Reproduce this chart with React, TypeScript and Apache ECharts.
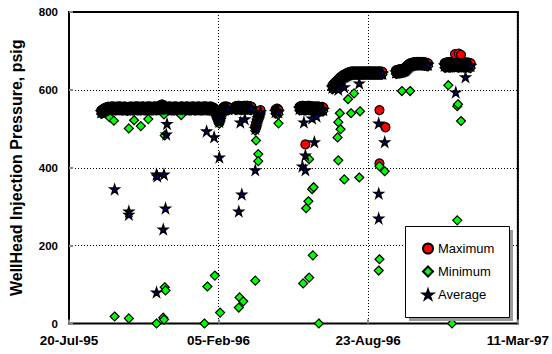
import React, { useEffect, useRef } from 'react';
import * as echarts from 'echarts';

// Tick labels
const xTickDays = [0, 200, 400, 600];
const xTickLabels = ['20-Jul-95', '05-Feb-96', '23-Aug-96', '11-Mar-97'];
const yTickValues = [0, 200, 400, 600, 800];
const seriesNames = ['Maximum', 'Minimum', 'Average'];

// Daily readings: [day since 20-Jul-95, maximum, minimum, average]
const periodA = [
  [43,547,538,543],[44,548,539,544],[45,549,540,545],[46,551,542,547],[47,552,543,548],[48,553,544,549],[49,554,545,550],[50,555,546,551],
  [51,555,547,551],[52,556,547,552],[53,556,548,552],[54,555,546,551],[55,556,548,552],[56,556,547,552],[57,557,548,553],[58,556,548,552],
  [59,557,549,553],[60,556,547,552],[61,556,548,552],[62,555,547,551],[63,556,547,552],[64,556,548,552],[65,557,548,553],[66,556,548,552],
  [67,557,549,553],[68,557,548,553],[69,556,548,552],[70,556,547,552],[71,555,547,551],[72,556,548,552],[73,556,547,552],[74,557,549,553],
  [75,556,548,552],[76,556,547,552],[77,555,547,551],[78,555,546,551],[79,556,548,552],[80,555,547,551],[81,556,548,552],[82,556,547,552],
  [83,557,548,553],[84,556,548,552],[85,556,547,552],[86,555,547,551],[87,556,548,552],[88,556,547,552],[89,557,549,553],[90,557,548,553],
  [91,556,548,552],[92,556,547,552],[93,557,548,553],[94,556,548,552],[95,555,547,551],[96,556,547,552],[97,556,548,552],[98,557,549,553],
  [99,557,548,553],[100,556,548,552],[101,556,547,552],[102,555,547,551],[103,556,548,552],[104,556,547,552],[105,557,548,553],[106,556,548,552],
  [107,557,549,553],[108,557,548,553],[109,556,548,552],[110,556,547,552],[111,555,547,551],[112,556,548,552],[113,556,547,552],[114,557,549,553],
  [115,557,548,553],[116,556,548,552],[117,556,547,552],[118,556,548,552],[119,557,548,553],[120,557,549,553],[121,558,549,554],[122,560,550,555],
  [123,561,550,555],[124,562,551,556],[125,562,550,556],[126,561,550,555],[127,559,549,554],[128,557,548,553],[129,556,548,552],[130,556,547,552],
  [131,555,547,551],[132,556,548,552],[133,556,547,552],[134,557,549,553],[135,557,548,553],[136,556,548,552],[137,556,547,552],[138,555,547,551],
  [139,556,548,552],[140,556,547,552],[141,557,548,553],[142,556,548,552],[143,557,549,553],[144,556,548,552],[145,556,547,552],[146,555,547,551],
  [147,555,546,551],[148,556,548,552],[149,556,547,552],[150,557,548,553],[151,557,549,553],[152,556,548,552],[153,556,547,552],[154,555,547,551],
  [155,556,548,552],[156,556,547,552],[157,557,548,553],[158,557,549,553],[159,556,548,552],[160,556,547,552],[161,556,548,552],[162,555,547,551],
  [163,556,547,552],[164,556,548,552],[165,557,549,553],[166,557,548,553],[167,556,548,552],[168,556,547,552],[169,555,547,551],[170,556,548,552],
  [171,556,547,552],[172,557,549,553],[173,556,548,552],[174,557,548,553],[175,556,548,552],[176,556,547,552],[177,555,547,551],[178,556,548,552],
  [179,556,547,552],[180,557,548,553],[181,556,548,552],[182,557,549,553],[183,557,548,553],[184,556,548,552],[185,556,547,552],[186,555,547,551],
  [187,556,548,552],[188,556,547,552],[189,557,549,553],[190,556,548,552],[191,556,547,552],[192,555,547,551],[193,554,546,550],[194,553,545,549],
  [195,551,543,547],[196,548,538,543],[197,544,532,538],[198,538,526,532],[199,532,520,526],[200,527,515,521],[201,522,513,518],[202,529,519,524],
  [203,537,527,532],[204,544,535,540],[205,550,541,546],[206,554,546,550],[207,556,548,552],[208,557,549,553],[209,556,548,552],[210,556,547,552],
  [211,557,549,553],[212,556,548,552],[213,555,547,551],
  [222,557,549,553],[223,557,548,553],[224,558,550,554],[225,558,549,554],[226,559,551,555],[227,559,550,555],[228,558,550,554],[229,558,549,554],
  [230,557,549,553],[231,557,548,553],[232,558,550,554],[233,558,549,554],[234,559,551,555],[235,559,550,555],[236,558,550,554],[237,558,549,554],
  [238,559,551,555],[239,559,550,555],[240,558,550,554],[241,558,549,554],[242,557,549,553],[243,557,548,553],[244,556,548,552],
];
const periodB = [
  [249,505,495,500],[250,512,500,506],[251,520,508,514],[252,527,515,521],[253,533,522,528],[254,539,528,534],[255,544,533,539],[256,548,538,543],
];
const periodC = [
  [276,549,539,544],[277,550,540,545],[278,552,540,546],[279,551,539,545],[280,548,537,543],
];
const periodD = [
  [308,556,547,552],[309,557,548,553],[310,558,549,554],[311,558,548,554],[312,559,549,555],[313,559,548,554],[314,558,548,554],[315,558,547,553],
  [316,557,547,552],[317,557,548,553],[318,558,548,554],[319,558,549,554],[320,559,549,555],[321,559,548,554],[322,558,548,553],[323,558,547,553],
  [324,557,547,552],[325,557,546,552],[326,556,546,551],[327,556,547,552],[328,557,547,552],[329,557,548,553],[330,556,547,552],[331,556,546,551],
  [332,557,547,552],[333,557,548,553],[334,556,547,552],[335,556,546,551],[336,555,546,550],[337,555,545,550],[338,556,546,551],[339,555,545,550],
  [340,554,545,549],
];
const periodF = [
  [352,611,601,606],[353,613,603,608],[354,615,605,610],[355,617,607,612],[356,619,609,614],[357,621,611,616],[358,623,613,618],[359,625,615,620],
  [360,627,617,622],[361,629,619,624],[362,631,621,626],[363,632,623,628],[364,634,625,630],[365,635,627,631],[366,637,628,633],[367,638,630,634],
  [368,639,631,635],[369,640,632,636],[370,641,633,637],[371,642,634,638],[372,643,635,639],[373,644,636,640],[374,645,637,641],[375,645,638,642],
];
const periodG = [
  [376,646,639,642],[377,646,639,643],[378,647,640,643],[379,646,639,643],[380,647,640,643],[381,646,640,643],[382,647,639,643],[383,646,640,643],
  [384,647,640,644],[385,646,639,643],[386,646,639,642],[387,647,640,643],[388,646,640,643],[389,647,639,643],[390,646,640,643],[391,647,640,644],
  [392,646,639,643],[393,647,640,643],[394,646,640,643],[395,647,639,643],[396,646,640,643],[397,647,640,644],[398,646,639,642],[399,647,640,643],
  [400,646,640,643],[401,647,639,643],[402,646,640,643],[403,647,640,644],[404,646,639,643],[405,647,640,643],[406,646,640,643],[407,647,639,643],
  [408,646,640,643],[409,647,640,644],[410,646,639,642],[411,647,640,643],[412,646,640,643],[413,647,639,643],[414,646,640,643],[415,647,640,644],
  [416,646,639,643],[417,647,640,643],[418,646,640,643],[419,646,639,642],
];
const periodH = [
  [437,650,641,645],[438,650,641,646],[439,651,642,646],[440,651,642,647],[441,652,642,647],[442,652,643,647],[443,652,643,648],[444,653,643,648],
  [445,653,644,648],[446,654,644,649],[447,654,645,649],[448,655,645,650],[449,656,646,651],[450,658,647,652],[451,660,649,654],[452,662,651,656],
  [453,664,653,658],[454,665,655,660],[455,667,657,662],[456,668,659,663],[457,668,660,664],[458,669,661,665],[459,669,661,666],[460,670,662,666],
  [461,670,662,667],[462,670,663,667],[463,671,663,667],[464,671,663,668],[465,671,664,668],[466,670,663,667],[467,671,663,668],[468,670,663,667],
  [469,671,664,668],[470,670,663,667],[471,671,663,668],[472,670,663,667],[473,671,664,668],[474,670,663,667],[475,670,662,667],[476,670,663,667],
  [477,669,662,666],[478,669,661,666],[479,668,661,665],[480,668,660,665],
];
const periodI = [
  [502,668,657,663],[503,669,657,663],[504,669,658,664],[505,670,658,664],[506,670,659,665],[507,671,658,665],[508,670,658,664],[509,670,657,664],
  [510,671,658,665],[511,671,659,665],[512,670,658,664],[513,670,658,664],[514,671,659,665],[515,671,658,665],[516,672,659,666],[517,672,660,666],
  [518,671,659,665],[519,671,658,665],[520,670,658,664],[521,670,657,664],[522,671,658,665],[523,671,659,665],[524,670,658,664],[525,670,658,664],
  [526,671,659,665],[527,671,658,665],[528,670,657,664],[529,670,658,664],[530,669,657,664],[531,669,658,664],[532,670,658,664],[533,670,659,664],
  [534,669,658,664],[535,669,657,663],[536,668,657,663],[537,668,656,662],
];

// Scattered readings: [day, value]
const maxExtra = [
  [201, 517], [316, 460], [415, 548], [423, 504], [415, 411], [516, 692], [521, 693], [524, 690],
];
const minExtra = [
  [54, 530], [60, 521], [80, 501], [87, 522], [96, 507], [106, 525], [127, 537], [128, 483],
  [150, 535], [61, 18], [80, 13], [117, 0], [126, 15], [127, 10], [128, 93], [129, 85],
  [181, 0], [185, 95], [195, 123], [202, 28], [199, 528], [227, 41], [228, 67], [233, 57],
  [249, 110], [250, 470], [253, 435], [253, 417], [280, 514], [313, 103], [321, 118], [334, 0],
  [326, 175], [317, 296], [320, 314], [325, 345], [327, 350], [321, 422], [359, 478], [360, 419],
  [360, 517], [362, 540], [363, 499], [368, 370], [373, 576], [377, 540], [381, 591], [388, 375],
  [389, 545], [414, 136], [415, 165], [415, 404], [422, 391], [445, 597], [456, 597], [507, 612],
  [512, 0], [519, 265], [519, 558], [520, 563], [524, 520],
];
const avgExtra = [
  [61, 345], [80, 288], [80, 280], [117, 383], [118, 378], [127, 383], [126, 242], [129, 296],
  [117, 80], [130, 486], [131, 513], [184, 494], [194, 479], [201, 427], [227, 288], [231, 332],
  [229, 517], [235, 525], [249, 394], [312, 404], [316, 394], [316, 432], [314, 517], [325, 527],
  [331, 532], [328, 466], [360, 601], [368, 607], [388, 617], [414, 514], [422, 466], [414, 334],
  [414, 270], [517, 594], [530, 633],
];

const STAR = 'path://M50,2 L61.8,37.6 L99,37.6 L68.9,59.5 L80.4,95 L50,73 L19.6,95 L31.1,59.5 L1,37.6 L38.2,37.6 Z';
const FONT = 'Liberation Sans';

export default function App() {
  const ref = useRef<HTMLDivElement>(null);
  useEffect(() => {
    const chart = echarts.init(ref.current!, null, { renderer: 'svg' });
    const dense = [...periodA, ...periodB, ...periodC, ...periodD, ...periodF, ...periodG, ...periodH, ...periodI];
    const maxData = dense.map((r) => [r[0], r[1]]).concat(maxExtra);
    const minData = dense.map((r) => [r[0], r[2]]).concat(minExtra);
    const avgData = dense.map((r) => [r[0], r[3]]).concat(avgExtra);
    const gridLine = { show: true, lineStyle: { color: '#000', width: 1, type: [1, 2] as any } };
    chart.setOption({
      animation: false,
      backgroundColor: '#fff',
      grid: {
        left: 62, right: 32, top: 12, bottom: 30.5,
        show: true, borderColor: '#000', borderWidth: 2, backgroundColor: 'transparent',
      },
      xAxis: {
        type: 'value', min: xTickDays[0], max: xTickDays[xTickDays.length - 1], interval: 200,
        axisLine: { show: false },
        axisTick: { show: true, inside: true, length: 4, lineStyle: { color: '#888', width: 2 } },
        splitLine: gridLine,
        axisLabel: {
          margin: 10, color: '#000', fontFamily: FONT, fontWeight: 'bold', fontSize: 13.5,
          formatter: (v: number) => xTickLabels[xTickDays.indexOf(v)] ?? '',
        },
      },
      yAxis: {
        type: 'value', min: yTickValues[0], max: yTickValues[yTickValues.length - 1], interval: 200,
        name: 'WellHead Injection Pressure, psig', nameLocation: 'middle', nameGap: 45,
        nameTextStyle: { color: '#000', fontFamily: FONT, fontWeight: 'bold', fontSize: 16 },
        axisLine: { show: false },
        axisTick: { show: true, inside: true, length: 4, lineStyle: { color: '#888', width: 2 } },
        splitLine: gridLine,
        axisLabel: { margin: 11, color: '#000', fontFamily: FONT, fontWeight: 'bold', fontSize: 11.5 },
      },
      legend: {
        data: seriesNames, orient: 'vertical', left: 405, top: 226,
        padding: [16, 10, 10, 17], itemGap: 10, itemWidth: 10, itemHeight: 10, z: 10,
        textStyle: { color: '#000', fontFamily: FONT, fontSize: 13 },
      },
      graphic: [
        { type: 'rect', z: 8, shape: { x: 409, y: 230, width: 104, height: 91 }, style: { fill: '#999' } },
        { type: 'rect', z: 9, shape: { x: 405.5, y: 226.5, width: 104, height: 91 }, style: { fill: '#fff', stroke: '#000', lineWidth: 1 } },
      ],
      series: [
        {
          name: seriesNames[0], type: 'scatter', data: maxData, symbol: 'circle', symbolSize: 9,
          itemStyle: { color: '#ff0000', borderColor: '#000', borderWidth: 1.2, opacity: 1 },
        },
        {
          name: seriesNames[1], type: 'scatter', data: minData, symbol: 'diamond', symbolSize: 9,
          itemStyle: { color: '#00ff00', borderColor: '#000', borderWidth: 1.2, opacity: 1 },
        },
        {
          name: seriesNames[2], type: 'scatter', data: avgData, symbol: STAR, symbolSize: 9,
          itemStyle: { color: '#000080', borderColor: '#000', borderWidth: 1.5, opacity: 1 },
        },
      ],
    });
    return () => chart.dispose();
  }, []);
  return <div ref={ref} style={{ position: 'fixed', left: 0, top: 0, width: 552, height: 354 }} />;
}
